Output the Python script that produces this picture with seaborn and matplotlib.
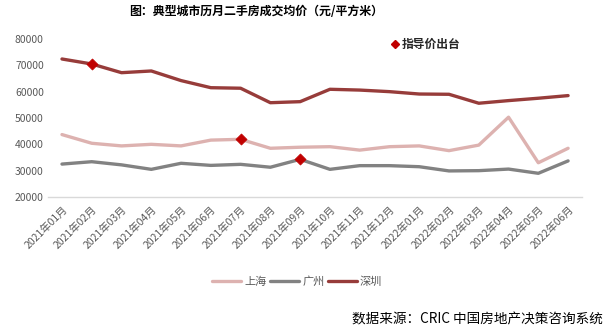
import matplotlib
matplotlib.use("Agg")
import matplotlib.pyplot as plt
import seaborn as sns
import pandas as pd
from matplotlib.lines import Line2D

sns.set_theme(style="white")
plt.rcParams['font.family'] = ['Noto Sans CJK SC', 'DejaVu Sans']
plt.rcParams['axes.unicode_minus'] = False

months = ["2021年01月", "2021年02月", "2021年03月", "2021年04月", "2021年05月", "2021年06月",
          "2021年07月", "2021年08月", "2021年09月", "2021年10月", "2021年11月", "2021年12月",
          "2022年01月", "2022年02月", "2022年03月", "2022年04月", "2022年05月", "2022年06月"]
shanghai = [43700, 40400, 39400, 40000, 39400, 41600, 41900, 38500, 38900,
            39100, 37800, 39100, 39400, 37600, 39700, 50300, 33000, 38500]
guangzhou = [32500, 33400, 32200, 30500, 32800, 32000, 32400, 31300, 34300,
             30500, 31900, 31900, 31500, 29900, 30000, 30600, 29000, 33700]
shenzhen = [72400, 70500, 67200, 67850, 64200, 61500, 61300, 55800, 56200,
            60900, 60600, 60000, 59100, 59000, 55600, 56600, 57500, 58500]
cities = ["上海", "广州", "深圳"]
colors = {"上海": "#DDB2B0", "广州": "#828282", "深圳": "#973C3A"}
# guidance price events: (city, month)
guide_city = ["深圳", "上海", "广州"]
guide_month = ["2021年02月", "2021年07月", "2021年09月"]

series = {"上海": shanghai, "广州": guangzhou, "深圳": shenzhen}
df = pd.DataFrame([(m, c, v) for c in cities for m, v in zip(months, series[c])],
                  columns=["month", "city", "price"])
df["idx"] = df["month"].map({m: i for i, m in enumerate(months)})
gdf = pd.DataFrame({"city": guide_city, "month": guide_month})
gdf = gdf.merge(df, on=["city", "month"])

fig = plt.figure(figsize=(6.09, 3.36), dpi=100)
ax = fig.add_axes([0.0788, 0.4137, 0.877, 0.4703])

sns.lineplot(data=df, x="idx", y="price", hue="city", hue_order=cities,
             palette=colors, linewidth=2.4, ax=ax, legend=False, sort=True)
for l in ax.lines:
    l.set_solid_capstyle("round")
    l.set_solid_joinstyle("round")
sns.scatterplot(data=gdf, x="idx", y="price", marker="D", color="#C00000",
                s=32, edgecolor="#C00000", linewidth=0.5, ax=ax, zorder=5, legend=False)

ax.set_xlim(-0.47, len(months) - 0.53)
ax.set_ylim(20000, 80000)
ax.set_yticks(range(20000, 80001, 10000))
ax.set_yticklabels([str(v) for v in range(20000, 80001, 10000)], fontsize=7.5, color="#595959")
ax.set_xticks(range(len(months)))
ax.set_xticklabels(months, rotation=45, ha="right", rotation_mode="anchor",
                   fontsize=7.5, color="#595959")
ax.tick_params(axis="both", length=0, pad=3)
ax.tick_params(axis="x", pad=5)
ax.set_xlabel("")
ax.set_ylabel("")
for s in ["top", "right", "left"]:
    ax.spines[s].set_visible(False)
ax.spines["bottom"].set_color("#D9D9D9")
ax.spines["bottom"].set_linewidth(1.0)
ax.grid(False)

fig.text(0.42, 0.965, "图：典型城市历月二手房成交均价（元/平方米）", ha="center", va="center",
         fontsize=8.6, fontweight="bold", color="#000000")

h_marker = [Line2D([], [], marker="D", color="#C00000", linestyle="none", markersize=4.5)]
leg1 = fig.legend(h_marker, ["指导价出台"], loc="center", bbox_to_anchor=(0.697, 0.868),
                  frameon=False, prop={"size": 8.5, "weight": "bold"}, handletextpad=0.1,
                  handlelength=1.0)
h_lines = [Line2D([], [], color=colors[c], linewidth=2.4) for c in cities]
leg2 = fig.legend(h_lines, cities, loc="center", bbox_to_anchor=(0.488, 0.163), ncol=3,
                  frameon=False, fontsize=8, handlelength=2.6, handletextpad=0.3,
                  columnspacing=0.3, labelcolor="#595959")

fig.text(0.99, 0.048, "数据来源：CRIC 中国房地产决策咨询系统", ha="right", va="center",
         fontsize=9.8, color="#000000")

fig.savefig("out.png", dpi=100)
